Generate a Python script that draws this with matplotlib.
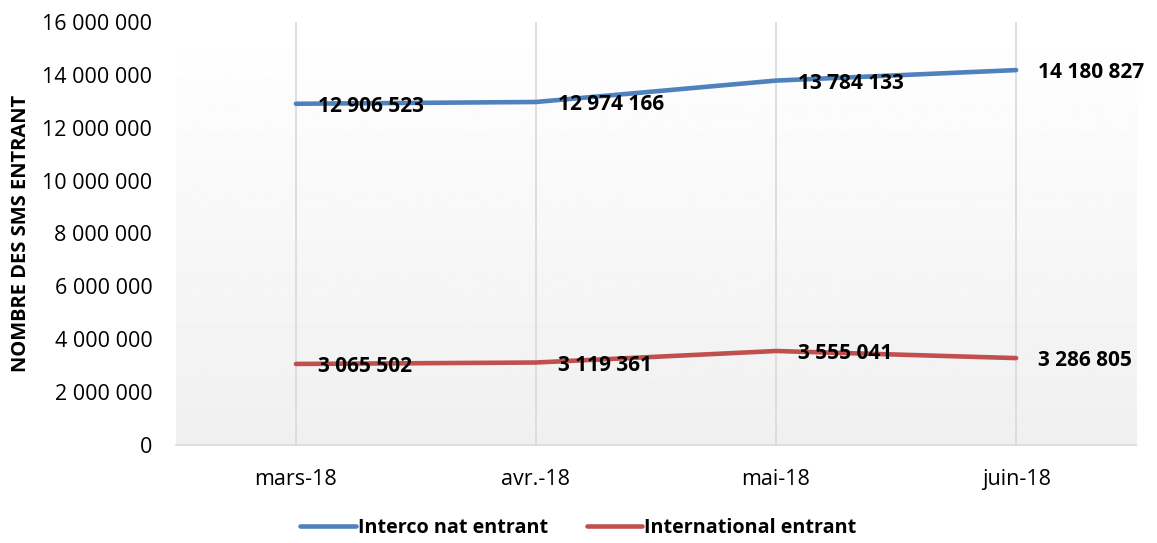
import matplotlib.pyplot as plt
import numpy as np

months = ['mars-18', 'avr.-18', 'mai-18', 'juin-18']
interco = [12906523, 12974166, 13784133, 14180827]
international = [3065502, 3119361, 3555041, 3286805]
yticks = np.arange(0, 16000001, 2000000)

plt.rcParams['font.family'] = ['Open Sans', 'DejaVu Sans']


def fmt(v):
    return '{:,}'.format(int(v)).replace(',', ' ')


fig = plt.figure(figsize=(11.57, 5.43), dpi=100)
ax = fig.add_axes([0.152, 0.1805, 0.830, 0.779])
x = np.arange(len(months))

# gradient background of the plot area
grad = np.linspace(1.0, 0.94, 256).reshape(-1, 1)
ax.imshow(grad, extent=[-0.5, 3.5, 0, 16000000], aspect='auto', cmap='gray',
          vmin=0, vmax=1, zorder=0)

for xi in x:
    ax.axvline(xi, color='#d9d9d9', linewidth=1.2, zorder=1)

ax.plot(x, interco, color='#4f81bd', linewidth=3.3, solid_capstyle='round',
        label='Interco nat entrant', zorder=3)
ax.plot(x, international, color='#c0504d', linewidth=3.3, solid_capstyle='round',
        label='International entrant', zorder=3)

for xi, v in zip(x, interco):
    ax.annotate(fmt(v), (xi, v), xytext=(16, -2), textcoords='offset points',
                ha='left', va='center', fontsize=15, fontweight='bold', zorder=4)
for xi, v in zip(x, international):
    ax.annotate(fmt(v), (xi, v), xytext=(16, -2), textcoords='offset points',
                ha='left', va='center', fontsize=15, fontweight='bold', zorder=4)

ax.set_xlim(-0.5, 3.5)
ax.set_ylim(0, 16000000)
ax.set_xticks(x)
ax.set_xticklabels(months, fontsize=15.5)
ax.set_yticks(yticks)
ax.set_yticklabels([fmt(t) for t in yticks], fontsize=15.5)
ax.tick_params(length=0)
ax.tick_params(axis='y', pad=17)
ax.tick_params(axis='x', pad=17)

for side in ['top', 'right', 'left']:
    ax.spines[side].set_visible(False)
ax.spines['bottom'].set_color('#d9d9d9')
ax.spines['bottom'].set_linewidth(1.2)

ax.set_ylabel('NOMBRE DES SMS ENTRANT', fontsize=14.5, fontweight='bold', labelpad=8)

leg = fig.legend(loc='lower center', bbox_to_anchor=(0.5, -0.024), ncol=2, frameon=False,
                 handlelength=2.8, handletextpad=0.1, columnspacing=2.0,
                 prop={'weight': 'bold', 'size': 14.2})

fig.savefig('out.png', dpi=100)
